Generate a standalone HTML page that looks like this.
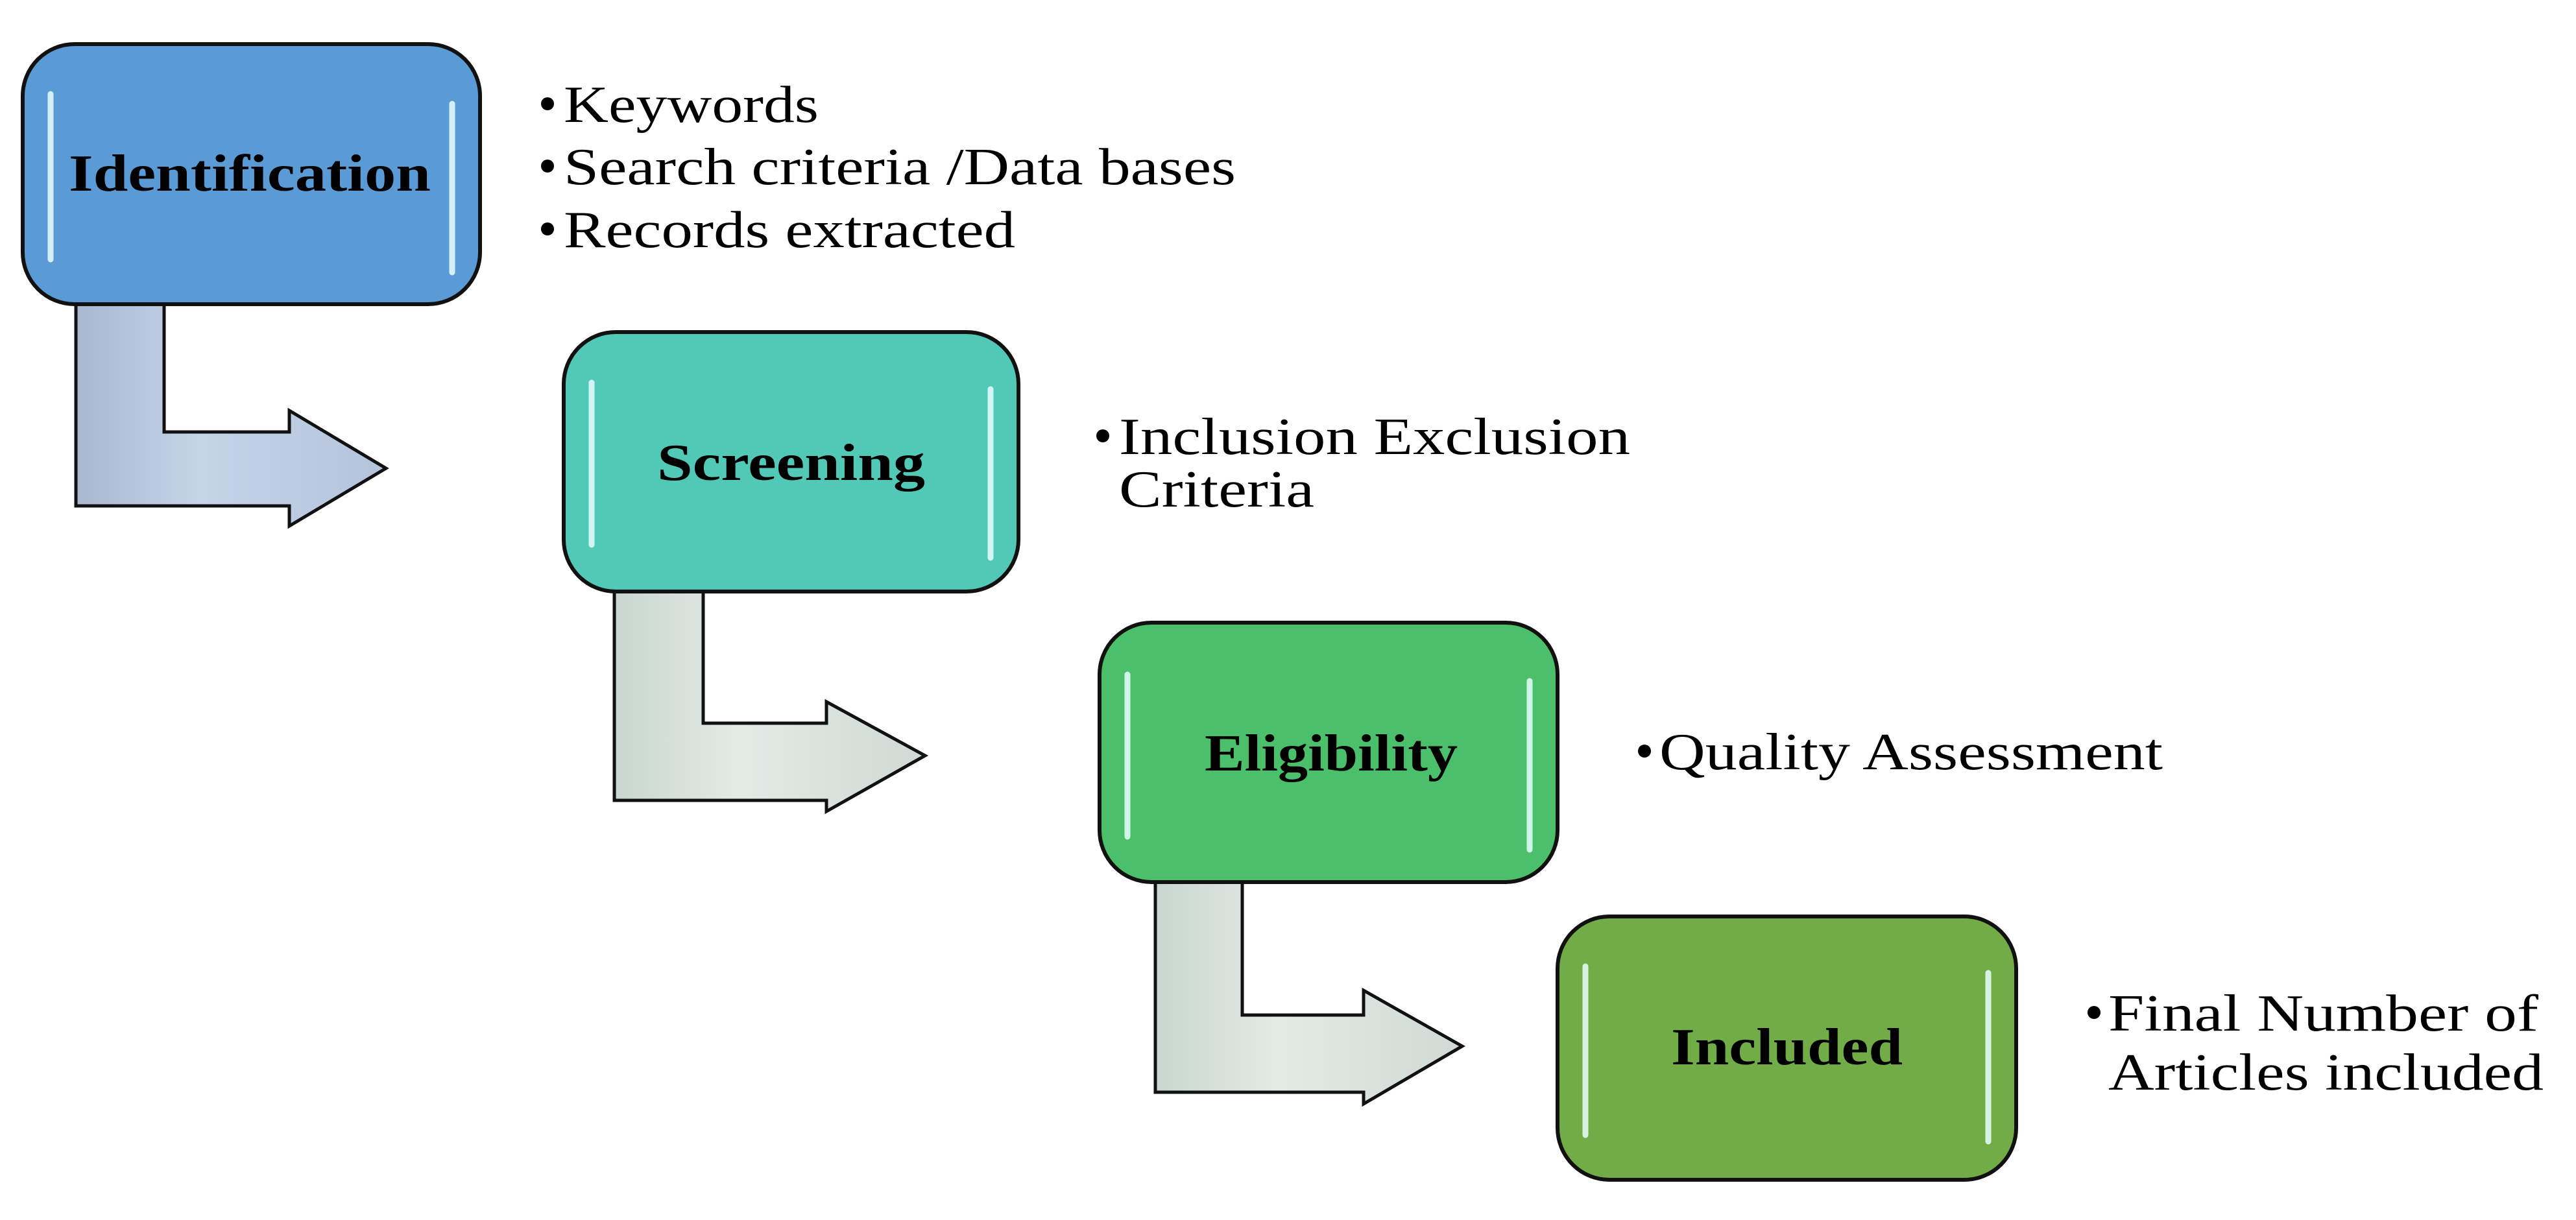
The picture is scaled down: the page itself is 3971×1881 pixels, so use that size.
<!DOCTYPE html>
<html><head><meta charset="utf-8"><style>
html,body{margin:0;padding:0;background:#fff;}
svg{display:block;}
text{font-family:"Liberation Serif",serif;fill:#000;}
.b{font-weight:bold;font-size:80px;}
.n{font-size:80px;}
</style></head><body>
<svg width="3971" height="1881" viewBox="0 0 3971 1881" xmlns="http://www.w3.org/2000/svg">
<defs>
<linearGradient id="a1" x1="0" y1="0" x2="1" y2="0"><stop offset="0" stop-color="#a9b8cf"/><stop offset="0.4" stop-color="#c6d4e8"/><stop offset="1" stop-color="#b4c3da"/></linearGradient>
<linearGradient id="a2" x1="0" y1="0" x2="1" y2="0"><stop offset="0" stop-color="#c9d6cf"/><stop offset="0.4" stop-color="#e2ebe6"/><stop offset="1" stop-color="#cfdad4"/></linearGradient>
</defs>

<path d="M117 469 V780 H446 V811 L595 722 L446 633 V666 H253 V469 Z" fill="url(#a1)" stroke="#111" stroke-width="5"/>
<path d="M947 912 V1234 H1274 V1251 L1426 1165 L1274 1082 V1115 H1084 V912 Z" fill="url(#a2)" stroke="#111" stroke-width="5"/>
<path d="M1781 1360 V1684 H2102 V1702 L2254 1613 L2102 1527 V1565 H1915 V1360 Z" fill="url(#a2)" stroke="#111" stroke-width="5"/>

<g stroke="#111" stroke-width="6">
<rect x="35" y="68" width="705" height="401" rx="80" fill="#5b9bd5"/>
<rect x="869" y="512" width="701" height="400" rx="80" fill="#52c9b6"/>
<rect x="1695" y="960" width="706" height="400" rx="80" fill="#4bbf69"/>
<rect x="2401" y="1413" width="707" height="406" rx="80" fill="#72ac47"/>
</g>
<g stroke="#e8ffff" stroke-width="9" stroke-linecap="round" opacity="0.85">
<line x1="78" y1="145" x2="78" y2="400"/><line x1="697" y1="160" x2="697" y2="420"/>
<line x1="912" y1="590" x2="912" y2="840"/><line x1="1527" y1="600" x2="1527" y2="860"/>
<line x1="1738" y1="1040" x2="1738" y2="1290"/><line x1="2358" y1="1050" x2="2358" y2="1310"/>
<line x1="2444" y1="1490" x2="2444" y2="1750"/><line x1="3065" y1="1500" x2="3065" y2="1760"/>
</g>

<text class="b" x="106" y="294" textLength="558" lengthAdjust="spacingAndGlyphs">Identification</text>
<text class="b" x="1013" y="740" textLength="413" lengthAdjust="spacingAndGlyphs">Screening</text>
<text class="b" x="1857" y="1188" textLength="390" lengthAdjust="spacingAndGlyphs">Eligibility</text>
<text class="b" x="2576" y="1641" textLength="357" lengthAdjust="spacingAndGlyphs">Included</text>

<g>
<circle cx="844" cy="160" r="10"/><text class="n" x="869" y="188" textLength="393" lengthAdjust="spacingAndGlyphs">Keywords</text>
<circle cx="844" cy="256" r="10"/><text class="n" x="869" y="284" textLength="1036" lengthAdjust="spacingAndGlyphs">Search criteria /Data bases</text>
<circle cx="844" cy="353" r="10"/><text class="n" x="869" y="381" textLength="696" lengthAdjust="spacingAndGlyphs">Records extracted</text>

<circle cx="1700" cy="672" r="10"/><text class="n" x="1725" y="700" textLength="788" lengthAdjust="spacingAndGlyphs">Inclusion Exclusion</text>
<text class="n" x="1725" y="781" textLength="301" lengthAdjust="spacingAndGlyphs">Criteria</text>

<circle cx="2535" cy="1158" r="10"/><text class="n" x="2558" y="1186" textLength="776" lengthAdjust="spacingAndGlyphs">Quality Assessment</text>

<circle cx="3228" cy="1561" r="10"/><text class="n" x="3250" y="1589" textLength="663" lengthAdjust="spacingAndGlyphs">Final Number of</text>
<text class="n" x="3250" y="1680" textLength="671" lengthAdjust="spacingAndGlyphs">Articles included</text>
</g>
</svg>
</body></html>
